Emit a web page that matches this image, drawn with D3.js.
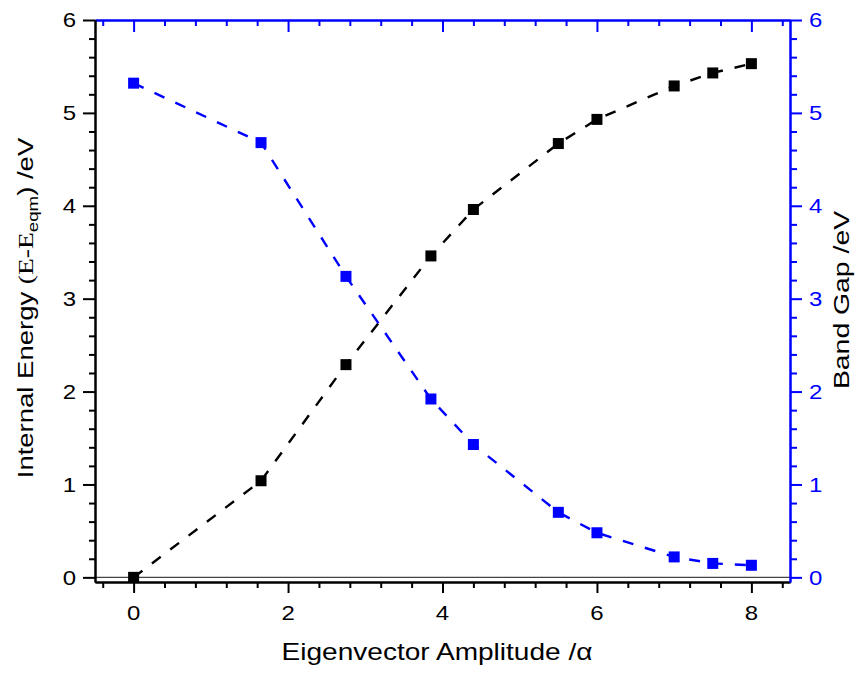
<!DOCTYPE html>
<html>
<head>
<meta charset="utf-8">
<script src="https://cdn.jsdelivr.net/npm/d3@7"></script>
<style>
  body { margin: 0; background: #fff; }
  text { font-family: "Liberation Sans", Arial, sans-serif; }
</style>
</head>
<body>
<div id="chart"></div>
<script>
// data
var amplitude = [0, 1.65, 2.75, 3.85, 4.4, 5.5, 6.0, 7.0, 7.5, 8.0];
var internalEnergy = [0, 1.04, 2.29, 3.46, 3.96, 4.67, 4.93, 5.29, 5.43, 5.53];
var bandGap = [5.32, 4.68, 3.24, 1.92, 1.43, 0.70, 0.48, 0.22, 0.15, 0.13];
var xTicks = [0, 2, 4, 6, 8];
var yTicks = [0, 1, 2, 3, 4, 5, 6];

var WIDTH = 860, HEIGHT = 675;
var LEFT = 95, RIGHT = 790, TOP = 20, BOTTOM = 582;
var BLUE = "#0000ff";
var STRETCH = 1.2; // glyphs in the reference are wider than Arial

var svg = d3.select("#chart").append("svg")
    .attr("width", WIDTH)
    .attr("height", HEIGHT);

var x = d3.scaleLinear().domain([-0.5, 8.5]).range([LEFT, RIGHT]);
var yL = d3.scaleLinear().domain([-0.05, 6]).range([BOTTOM, TOP]);
var yR = d3.scaleLinear().domain([-0.05, 6]).range([BOTTOM, TOP]);

var xMinor = d3.range(-0.4, 8.5, 0.4).map(function(v){ return +v.toFixed(1); })
    .filter(function(v){ return xTicks.indexOf(v) < 0; });
var yMinor = d3.range(0.2, 6, 0.2).map(function(v){ return +v.toFixed(1); })
    .filter(function(v){ return yTicks.indexOf(v) < 0; });

function styleAxis(g, color) {
    g.select(".domain").attr("stroke", color).attr("stroke-width", 2);
    g.selectAll(".tick line").attr("stroke", color).attr("stroke-width", 2);
}

// stretched label drawn around an anchor point
function label(px, py, txt, anchor, color, size, rot, sx) {
    var t = svg.append("text")
        .attr("transform", "translate(" + px + "," + py + ")" + (rot ? " rotate(" + rot + ")" : "") +
              " scale(" + (sx || STRETCH) + ",1)")
        .attr("text-anchor", anchor)
        .attr("fill", color)
        .style("font-size", size + "px");
    if (txt !== null) t.text(txt);
    return t;
}

// zero line
svg.append("line")
    .attr("x1", LEFT).attr("x2", RIGHT)
    .attr("y1", yL(0)).attr("y2", yL(0))
    .attr("stroke", "#444").attr("stroke-width", 1.2);

// bottom axis (black, outward ticks)
var gB = svg.append("g").attr("transform", "translate(0," + BOTTOM + ")");
gB.append("g").call(d3.axisBottom(x).tickValues(xMinor).tickSize(6).tickSizeOuter(0).tickFormat(""))
    .call(styleAxis, "#000");
gB.append("g").call(d3.axisBottom(x).tickValues(xTicks).tickSize(11).tickSizeOuter(0).tickFormat(""))
    .call(styleAxis, "#000");
xTicks.forEach(function(v){ label(x(v), 620, d3.format("d")(v), "middle", "#000", 20); });

// top axis (blue, inward ticks)
var gT = svg.append("g").attr("transform", "translate(0," + TOP + ")");
gT.append("g").call(d3.axisBottom(x).tickValues(xMinor).tickSize(6).tickSizeOuter(0).tickFormat(""))
    .call(styleAxis, BLUE);
gT.append("g").call(d3.axisBottom(x).tickValues(xTicks).tickSize(12).tickSizeOuter(0).tickFormat(""))
    .call(styleAxis, BLUE);

// left axis (black)
var gL = svg.append("g").attr("transform", "translate(" + LEFT + ",0)");
gL.append("g").call(d3.axisLeft(yL).tickValues(yMinor).tickSize(6).tickSizeOuter(0).tickFormat(""))
    .call(styleAxis, "#000");
gL.append("g").call(d3.axisLeft(yL).tickValues(yTicks).tickSize(12).tickSizeOuter(0).tickFormat(""))
    .call(styleAxis, "#000");
yTicks.forEach(function(v){ label(76, yL(v) + 7.2, d3.format("d")(v), "end", "#000", 20); });

// right axis (blue)
var gR = svg.append("g").attr("transform", "translate(" + RIGHT + ",0)");
gR.append("g").call(d3.axisRight(yR).tickValues(yMinor).tickSize(7).tickSizeOuter(0).tickFormat(""))
    .call(styleAxis, BLUE);
gR.append("g").call(d3.axisRight(yR).tickValues(yTicks).tickSize(12).tickSizeOuter(0).tickFormat(""))
    .call(styleAxis, BLUE);
yTicks.forEach(function(v){ label(809, yR(v) + 7.2, d3.format("d")(v), "start", BLUE, 20); });

// dashed lines + square markers
function drawSeries(values, yScale, color) {
    var pts = amplitude.map(function(a, i){ return [a, values[i]]; });
    var line = d3.line()
        .x(function(d){ return x(d[0]); })
        .y(function(d){ return yScale(d[1]); });
    svg.append("path")
        .datum(pts)
        .attr("d", line)
        .attr("fill", "none")
        .attr("stroke", color)
        .attr("stroke-width", 2.4)
        .attr("stroke-dasharray", "11,12");
    svg.selectAll(null)
        .data(pts)
        .enter().append("rect")
        .attr("x", function(d){ return x(d[0]) - 5.5; })
        .attr("y", function(d){ return yScale(d[1]) - 5.5; })
        .attr("width", 11)
        .attr("height", 11)
        .attr("fill", color);
}
drawSeries(internalEnergy, yL, "#000");
drawSeries(bandGap, yR, BLUE);

// axis titles
label(437, 660, "Eigenvector Amplitude /α", "middle", "#000", 23, 0, 1.22);

var tl = label(33, 308, null, "middle", "#000", 22, -90, 1.25);
tl.append("tspan").text("Internal Energy ");
tl.append("tspan").style("font-family", '"Liberation Serif", "Times New Roman", serif').text("(E-E");
tl.append("tspan").attr("dy", 5).style("font-size", "15px").text("eqm");
tl.append("tspan").attr("dy", -5).text(") /eV");

label(849, 300, "Band Gap /eV", "middle", "#000", 22, -90, 1.29);
</script>
</body>
</html>
